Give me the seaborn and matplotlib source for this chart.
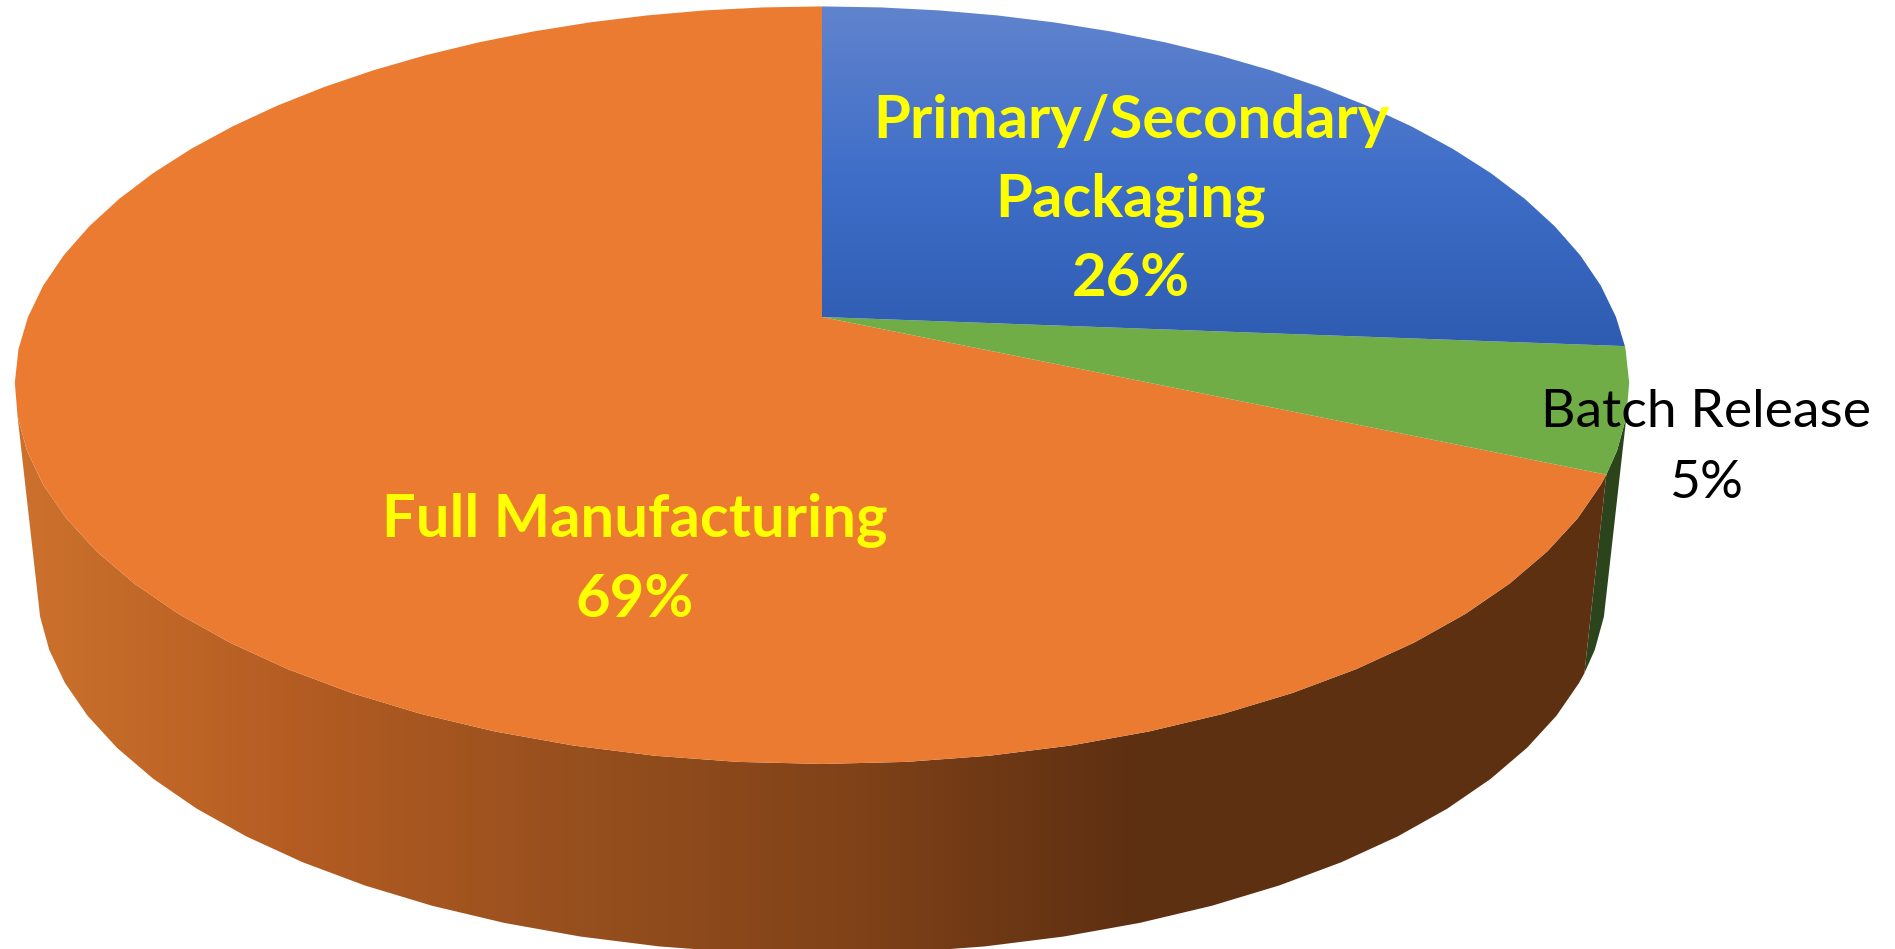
import numpy as np
import seaborn as sns
import matplotlib.pyplot as plt
from matplotlib.patches import Polygon

categories = ['Primary/Secondary\nPackaging', 'Batch Release', 'Full Manufacturing']
shares = [26.3, 5.3, 68.6]
top_colors = ['#3C6BC6', '#70AD47', '#EB7B30']
side_colors = ['#1F3864', '#2C441C', '#5E3013']
label_colors = ['#FFFF00', '#000000', '#FFFF00']
label_weights = ['bold', 'normal', 'bold']

sns.set_theme(style='white')
plt.rcParams['font.family'] = ['Lato', 'DejaVu Sans']

fig, ax = plt.subplots(figsize=(18.95, 9.49), dpi=100)
fig.subplots_adjust(0, 0, 1, 1)
ax.set_xlim(0, 1895)
ax.set_ylim(949, 0)
ax.axis('off')

# perspective of a flat disc, in pixels
CX, CY = 822, 317
RX, RY, TILT = 794, 366.5, 0.18
# lower rim of the disc
LOW_CY, LOW_SCALE = 520, 0.972
# the outline is made of straight facets
FACET = np.deg2rad(5)


def rim(theta, lower=False):
    u, v = np.cos(theta), np.sin(theta)
    d = 1 + TILT * v
    x, y = RX * u / d, RY * v / d
    if lower:
        return CX + LOW_SCALE * x, LOW_CY - LOW_SCALE * y
    return CX + x, CY - y


def arc(t0, t1):
    # angles going clockwise from t0 to t1, on the facet grid
    k0 = np.floor(t0 / FACET - 1e-6)
    k1 = np.ceil(t1 / FACET + 1e-6)
    return np.r_[t0, np.arange(k0, k1 - 0.5, -1) * FACET, t1]


def gradient_fill(path_xy, grad, cmap, zorder):
    patch = Polygon(path_xy, closed=True, fc='none', ec='none', transform=ax.transData)
    ax.add_patch(patch)
    img = ax.imshow(grad, extent=(0, 1895, 949, 0), cmap=cmap, vmin=0, vmax=1,
                    aspect='auto', zorder=zorder, interpolation='bilinear')
    img.set_clip_path(patch)


# slice edges, clockwise from twelve o'clock
edges = np.pi / 2 - 2 * np.pi * np.cumsum([0] + shares) / sum(shares)

xx, yy = np.meshgrid(np.arange(1895), np.arange(949))
wall_grad = np.clip((xx - 38) / (1130 - 38), 0, 1)
wall_cmap = sns.blend_palette(['#CB702C', '#B25B22', '#964F1E', '#804218', '#5E3012'], as_cmap=True)
blue_grad = np.clip((yy - 7) / (345 - 7), 0, 1)
blue_cmap = sns.blend_palette(['#6083CD', '#3F6EC8', '#2E5CB2'], as_cmap=True)

# tangent points of the silhouette between the two rims
sweep = np.arange(72) * FACET
sx, sy = rim(sweep)
left_t = sweep[np.argmin(205 * sx - 24 * sy)]
right_t = sweep[np.argmax(205 * sx + 24 * sy)]
if right_t > np.pi:
    right_t -= 2 * np.pi

# green wall, from the right silhouette to the orange edge
th = arc(right_t, edges[2])
wall = np.column_stack(rim(th))
low = np.column_stack(rim(th, True))[::-1]
ax.add_patch(Polygon(np.vstack([wall, low]), closed=True, fc=side_colors[1], ec='none', zorder=1))

# orange wall, from the green edge round the front to the left silhouette
th = arc(edges[2], left_t - 2 * np.pi)
wall = np.column_stack(rim(th))
low = np.column_stack(rim(th, True))[::-1]
gradient_fill(np.vstack([wall, low]), wall_grad, wall_cmap, 2)

# top faces
for i in [2, 1, 0]:
    th = arc(edges[i], edges[i + 1])
    xy = np.vstack([[CX, CY], np.column_stack(rim(th))])
    if i == 0:
        gradient_fill(xy, blue_grad, blue_cmap, 3)
    else:
        ax.add_patch(Polygon(xy, closed=True, fc=top_colors[i], ec='none', zorder=3))

label_pos = [(1131, 200), (1706, 448), (635, 560)]
label_sizes = [43, 38.5, 43]
label_spacing = [1.55, 1.65, 1.55]
for i, cat in enumerate(categories):
    ax.text(label_pos[i][0], label_pos[i][1], f'{cat}\n{round(shares[i])}%', color=label_colors[i],
            fontweight=label_weights[i], fontsize=label_sizes[i], ha='center', va='center',
            linespacing=label_spacing[i], zorder=5)

fig.savefig('out.png', dpi=100)
